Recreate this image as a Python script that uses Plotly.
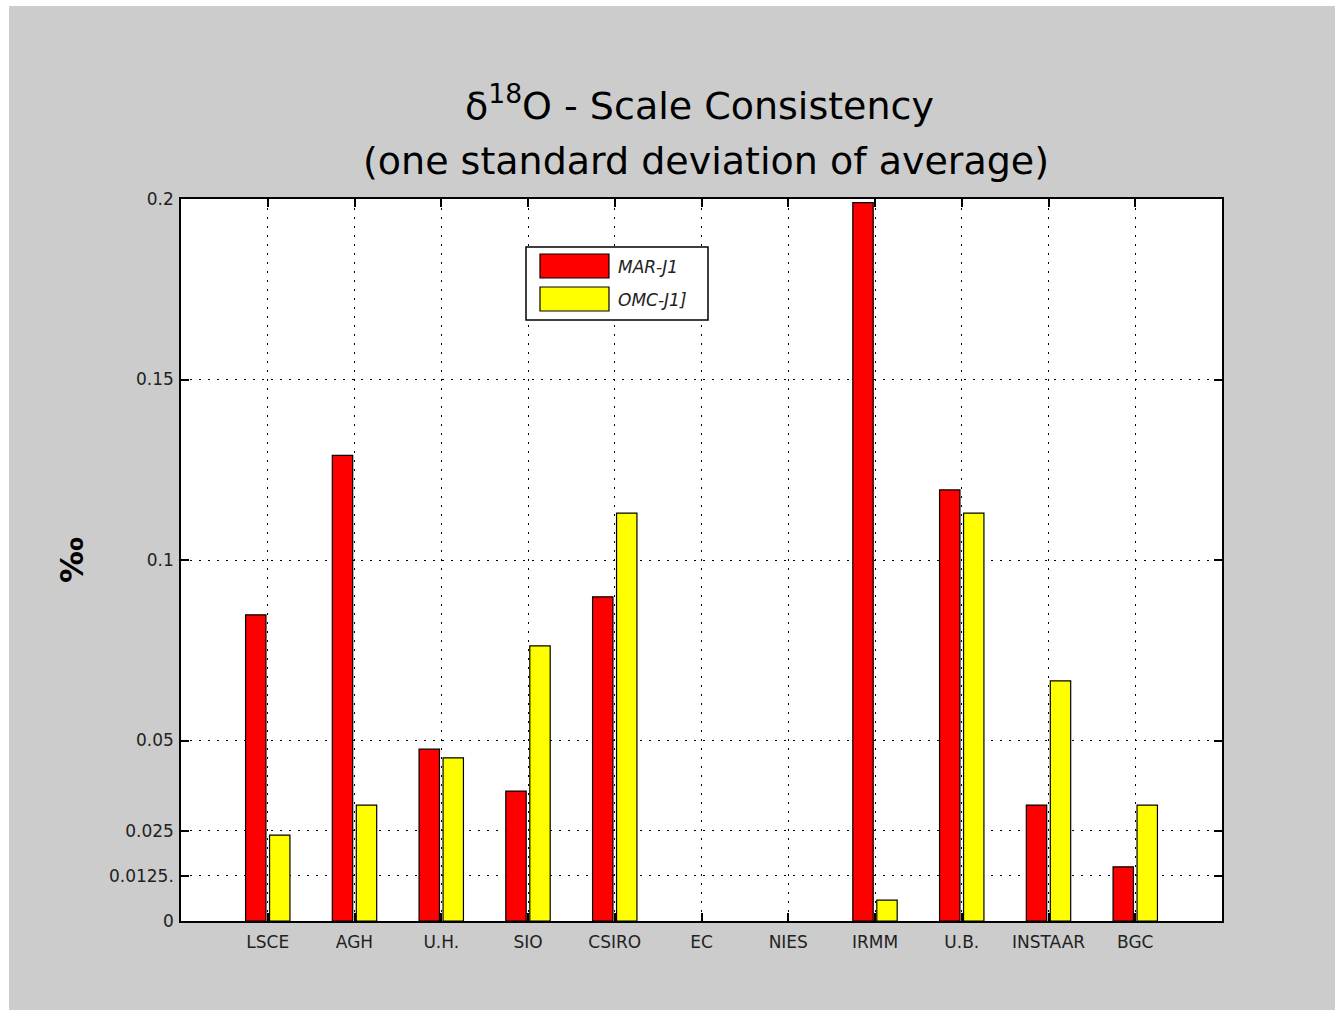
import plotly.graph_objects as go

categories = ["LSCE", "AGH", "U.H.", "SIO", "CSIRO", "EC", "NIES", "IRMM", "U.B.", "INSTAAR", "BGC"]
positions = list(range(1, 12))
mar_j1 = [0.0848, 0.129, 0.0476, 0.036, 0.0898, None, None, 0.199, 0.1194, 0.0321, 0.015]
omc_j1 = [0.0238, 0.0321, 0.0452, 0.0762, 0.113, None, None, 0.0058, 0.113, 0.0665, 0.0321]
series_names = ["MAR-J1", "OMC-J1]"]
ytick_vals = [0, 0.0125, 0.025, 0.05, 0.1, 0.15, 0.2]
ytick_text = ["0", "0.0125.", "0.025", "0.05", "0.1", "0.15", "0.2"]

W, H = 1335, 1010
L, R, T, B = 181, 1222, 199, 921
FONT = "DejaVu Sans"


def px(x):
    return (x - L) / (R - L)


def py(y):
    return (B - y) / (B - T)


fig = go.Figure()
fig.add_trace(go.Bar(x=positions, y=mar_j1, name=series_names[0],
                     marker=dict(color="#ff0000", line=dict(color="black", width=1.2)),
                     showlegend=False))
fig.add_trace(go.Bar(x=positions, y=omc_j1, name=series_names[1],
                     marker=dict(color="#ffff00", line=dict(color="black", width=1.2)),
                     showlegend=False))

axis_common = dict(showline=True, linecolor="black", linewidth=1.5, mirror="ticks",
                   ticks="inside", ticklen=8, tickcolor="black", tickwidth=1.5,
                   showgrid=True, gridcolor="black", gridwidth=1, griddash="2px,7px",
                   zeroline=False, tickfont=dict(family=FONT, size=17, color="#222"))

fig.update_xaxes(range=[0, 12], tickvals=positions, ticktext=categories,
                 ticklabelstandoff=5, **axis_common)
fig.update_yaxes(range=[0, 0.2], tickvals=ytick_vals, ticktext=ytick_text,
                 ticklabelstandoff=2, **axis_common)

shapes = [
    # white border strips of the page
    dict(type="rect", xref="paper", yref="paper", x0=px(0), x1=px(W), y0=py(6), y1=py(0),
         fillcolor="white", line=dict(width=0), layer="above"),
    dict(type="rect", xref="paper", yref="paper", x0=px(0), x1=px(9), y0=py(H), y1=py(0),
         fillcolor="white", line=dict(width=0), layer="above"),
    # legend box
    dict(type="rect", xref="paper", yref="paper", x0=px(526), x1=px(708), y0=py(320), y1=py(247),
         fillcolor="white", line=dict(color="black", width=1.5), layer="above"),
    dict(type="rect", xref="paper", yref="paper", x0=px(540), x1=px(609), y0=py(278), y1=py(254),
         fillcolor="#ff0000", line=dict(color="black", width=1.2), layer="above"),
    dict(type="rect", xref="paper", yref="paper", x0=px(540), x1=px(609), y0=py(311), y1=py(287),
         fillcolor="#ffff00", line=dict(color="black", width=1.2), layer="above"),
]

annotations = [
    dict(text="δ<sup>18</sup>O - Scale Consistency", xref="paper", yref="paper",
         x=px(699), y=py(103), showarrow=False, xanchor="center", yanchor="middle",
         font=dict(family=FONT, size=38, color="black")),
    dict(text="(one standard deviation of average)", xref="paper", yref="paper",
         x=px(706), y=py(161), showarrow=False, xanchor="center", yanchor="middle",
         font=dict(family=FONT, size=38, color="black")),
    dict(text="<b>‰</b>", xref="paper", yref="paper", x=px(72), y=py(560), showarrow=False,
         textangle=-90, xanchor="center", yanchor="middle",
         font=dict(family=FONT, size=32, color="black")),
    dict(text="<i>" + series_names[0] + "</i>", xref="paper", yref="paper", x=px(616), y=py(267),
         showarrow=False, xanchor="left", yanchor="middle",
         font=dict(family=FONT, size=17, color="#222")),
    dict(text="<i>" + series_names[1] + "</i>", xref="paper", yref="paper", x=px(616), y=py(300),
         showarrow=False, xanchor="left", yanchor="middle",
         font=dict(family=FONT, size=17, color="#222")),
]

fig.update_layout(
    width=W, height=H,
    margin=dict(l=L, r=W - R, t=T, b=H - B),
    paper_bgcolor="#cccccc", plot_bgcolor="white",
    barmode="group", bargap=0.447, bargroupgap=0.15,
    shapes=shapes, annotations=annotations,
    font=dict(family=FONT),
)

fig.write_html("out.html")
